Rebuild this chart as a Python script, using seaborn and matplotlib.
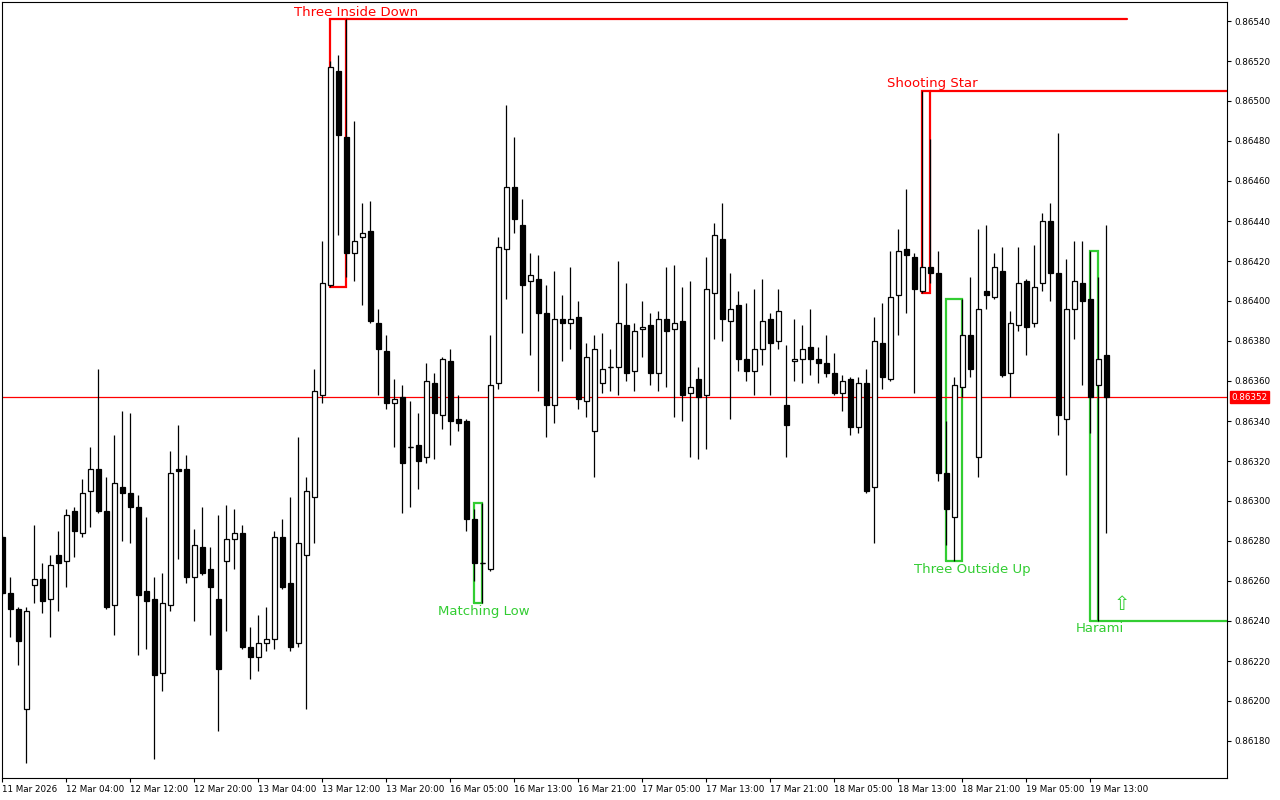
import numpy as np
import matplotlib
matplotlib.use("Agg")
import matplotlib.pyplot as plt
import matplotlib.transforms as mtransforms
import seaborn as sns

# H1 candles, 11 Mar 2026 20:00 onwards
opens = [0.86282, 0.86254, 0.86246, 0.86196, 0.86258, 0.86261, 0.86251, 0.86273, 0.86270, 0.86295,
         0.86284, 0.86305, 0.86316, 0.86295, 0.86248, 0.86307, 0.86304, 0.86297, 0.86255, 0.86251,
         0.86214, 0.86248, 0.86316, 0.86316, 0.86262, 0.86277, 0.86266, 0.86251, 0.86270, 0.86281,
         0.86284, 0.86227, 0.86222, 0.86229, 0.86231, 0.86282, 0.86259, 0.86229, 0.86273, 0.86302,
         0.86353, 0.86408, 0.86515, 0.86482, 0.86424, 0.86432, 0.86435, 0.86389, 0.86375, 0.86349,
         0.86352, 0.86327, 0.86328, 0.86322, 0.86359, 0.86343, 0.86370, 0.86341, 0.86340, 0.86291,
         0.86269, 0.86266, 0.86359, 0.86426, 0.86457, 0.86438, 0.86410, 0.86411, 0.86394, 0.86348,
         0.86391, 0.86389, 0.86392, 0.86350, 0.86335, 0.86359, 0.86367, 0.86367, 0.86388, 0.86365,
         0.86386, 0.86388, 0.86364, 0.86391, 0.86386, 0.86390, 0.86354, 0.86361, 0.86353, 0.86404,
         0.86431, 0.86390, 0.86398, 0.86371, 0.86365, 0.86376, 0.86391, 0.86380, 0.86348, 0.86370,
         0.86371, 0.86377, 0.86371, 0.86369, 0.86364, 0.86354, 0.86361, 0.86337, 0.86359, 0.86307,
         0.86379, 0.86361, 0.86403, 0.86426, 0.86422, 0.86405, 0.86417, 0.86414, 0.86314, 0.86292,
         0.86357, 0.86383, 0.86322, 0.86405, 0.86402, 0.86415, 0.86364, 0.86388, 0.86410, 0.86389,
         0.86409, 0.86440, 0.86414, 0.86341, 0.86396, 0.86409, 0.86401, 0.86358, 0.86373]
highs = [0.86283, 0.86262, 0.86247, 0.86247, 0.86288, 0.86269, 0.86273, 0.86285, 0.86296, 0.86297,
         0.86311, 0.86327, 0.86366, 0.86312, 0.86333, 0.86345, 0.86344, 0.86303, 0.86292, 0.86262,
         0.86264, 0.86325, 0.86338, 0.86323, 0.86286, 0.86297, 0.86277, 0.86293, 0.86298, 0.86296,
         0.86288, 0.86237, 0.86243, 0.86247, 0.86285, 0.86291, 0.86302, 0.86332, 0.86312, 0.86366,
         0.86430, 0.86520, 0.86523, 0.86541, 0.86490, 0.86449, 0.86450, 0.86396, 0.86383, 0.86361,
         0.86358, 0.86350, 0.86344, 0.86369, 0.86364, 0.86372, 0.86376, 0.86353, 0.86341, 0.86296,
         0.86299, 0.86383, 0.86432, 0.86498, 0.86482, 0.86451, 0.86424, 0.86423, 0.86408, 0.86415,
         0.86403, 0.86417, 0.86400, 0.86379, 0.86383, 0.86384, 0.86376, 0.86420, 0.86409, 0.86389,
         0.86400, 0.86394, 0.86395, 0.86417, 0.86418, 0.86407, 0.86410, 0.86367, 0.86422, 0.86439,
         0.86449, 0.86414, 0.86405, 0.86399, 0.86406, 0.86411, 0.86394, 0.86406, 0.86378, 0.86391,
         0.86388, 0.86396, 0.86377, 0.86383, 0.86374, 0.86363, 0.86362, 0.86362, 0.86366, 0.86392,
         0.86399, 0.86425, 0.86436, 0.86456, 0.86424, 0.86505, 0.86481, 0.86425, 0.86340, 0.86362,
         0.86401, 0.86412, 0.86436, 0.86438, 0.86424, 0.86427, 0.86395, 0.86427, 0.86411, 0.86428,
         0.86444, 0.86449, 0.86484, 0.86421, 0.86430, 0.86430, 0.86425, 0.86412, 0.86438]
lows = [0.86253, 0.86232, 0.86218, 0.86169, 0.86249, 0.86244, 0.86232, 0.86245, 0.86257, 0.86272,
        0.86282, 0.86287, 0.86294, 0.86246, 0.86233, 0.86280, 0.86279, 0.86223, 0.86226, 0.86171,
        0.86205, 0.86245, 0.86271, 0.86259, 0.86240, 0.86263, 0.86233, 0.86185, 0.86235, 0.86266,
        0.86226, 0.86211, 0.86215, 0.86225, 0.86226, 0.86256, 0.86225, 0.86227, 0.86196, 0.86279,
        0.86349, 0.86407, 0.86433, 0.86412, 0.86410, 0.86398, 0.86389, 0.86353, 0.86346, 0.86327,
        0.86294, 0.86297, 0.86306, 0.86319, 0.86321, 0.86336, 0.86328, 0.86335, 0.86285, 0.86260,
        0.86249, 0.86265, 0.86356, 0.86401, 0.86434, 0.86384, 0.86373, 0.86355, 0.86332, 0.86339,
        0.86370, 0.86376, 0.86346, 0.86342, 0.86312, 0.86354, 0.86355, 0.86353, 0.86360, 0.86355,
        0.86372, 0.86358, 0.86355, 0.86357, 0.86342, 0.86340, 0.86322, 0.86321, 0.86326, 0.86381,
        0.86380, 0.86341, 0.86365, 0.86360, 0.86353, 0.86368, 0.86353, 0.86376, 0.86322, 0.86360,
        0.86359, 0.86363, 0.86359, 0.86362, 0.86353, 0.86345, 0.86333, 0.86334, 0.86304, 0.86279,
        0.86356, 0.86360, 0.86383, 0.86394, 0.86354, 0.86404, 0.86409, 0.86310, 0.86278, 0.86270,
        0.86352, 0.86362, 0.86312, 0.86396, 0.86401, 0.86362, 0.86352, 0.86385, 0.86373, 0.86387,
        0.86405, 0.86400, 0.86333, 0.86313, 0.86381, 0.86358, 0.86334, 0.86240, 0.86284]
closes = [0.86254, 0.86246, 0.86230, 0.86245, 0.86261, 0.86250, 0.86268, 0.86269, 0.86293, 0.86285,
          0.86304, 0.86316, 0.86295, 0.86247, 0.86309, 0.86304, 0.86297, 0.86253, 0.86250, 0.86213,
          0.86249, 0.86314, 0.86315, 0.86262, 0.86278, 0.86264, 0.86257, 0.86216, 0.86281, 0.86284,
          0.86227, 0.86222, 0.86229, 0.86231, 0.86282, 0.86257, 0.86227, 0.86279, 0.86305, 0.86355,
          0.86409, 0.86517, 0.86483, 0.86424, 0.86430, 0.86434, 0.86390, 0.86376, 0.86349, 0.86351,
          0.86319, 0.86327, 0.86320, 0.86360, 0.86344, 0.86371, 0.86340, 0.86339, 0.86291, 0.86269,
          0.86269, 0.86358, 0.86427, 0.86457, 0.86441, 0.86408, 0.86413, 0.86394, 0.86348, 0.86391,
          0.86389, 0.86391, 0.86351, 0.86372, 0.86376, 0.86366, 0.86367, 0.86389, 0.86364, 0.86385,
          0.86387, 0.86364, 0.86391, 0.86385, 0.86389, 0.86353, 0.86357, 0.86352, 0.86406, 0.86433,
          0.86391, 0.86396, 0.86371, 0.86365, 0.86376, 0.86390, 0.86379, 0.86395, 0.86338, 0.86371,
          0.86376, 0.86371, 0.86369, 0.86364, 0.86354, 0.86360, 0.86337, 0.86359, 0.86305, 0.86380,
          0.86362, 0.86402, 0.86425, 0.86423, 0.86406, 0.86417, 0.86414, 0.86314, 0.86296, 0.86358,
          0.86383, 0.86366, 0.86396, 0.86403, 0.86417, 0.86363, 0.86389, 0.86409, 0.86387, 0.86407,
          0.86440, 0.86414, 0.86343, 0.86396, 0.86410, 0.86400, 0.86352, 0.86371, 0.86352]

time_labels = ["11 Mar 2026", "12 Mar 04:00", "12 Mar 12:00", "12 Mar 20:00", "13 Mar 04:00",
               "13 Mar 12:00", "13 Mar 20:00", "16 Mar 05:00", "16 Mar 13:00", "16 Mar 21:00",
               "17 Mar 05:00", "17 Mar 13:00", "17 Mar 21:00", "18 Mar 05:00", "18 Mar 13:00",
               "18 Mar 21:00", "19 Mar 05:00", "19 Mar 13:00"]
label_step = 8

price_ticks = [0.86180, 0.86200, 0.86220, 0.86240, 0.86260, 0.86280, 0.86300, 0.86320, 0.86340,
               0.86360, 0.86380, 0.86400, 0.86420, 0.86440, 0.86460, 0.86480, 0.86500, 0.86520, 0.86540]

pattern_names = ["Three Inside Down", "Shooting Star", "Matching Low", "Three Outside Up", "Harami"]
pattern_first = [41, 115, 59, 118, 136]
pattern_last = [43, 116, 60, 120, 137]
pattern_bullish = [False, False, True, True, True]

# layout
label_x = [44.2, 116.2, 60.2, 121.2, 137.2]
XMIN, XMAX = -0.04, 153.1
YMIN, YMAX = 0.861615, 0.865495
RED = "#ff0000"
GREEN = "#32cd32"

sns.set_theme(style="white")
plt.rcParams["font.family"] = ["DejaVu Sans"]

fig = plt.figure(figsize=(12.8, 8), dpi=100)
ax = fig.add_axes([2 / 1280, 22 / 800, 1225 / 1280, 776 / 800])

o = np.array(opens)
h = np.array(highs)
l = np.array(lows)
c = np.array(closes)
x = np.arange(len(o))
up = c >= o

# current price line (behind candles)
ax.axhline(c[-1], color=RED, lw=0.9, zorder=1.5)

ax.vlines(x, l, h, color="black", lw=0.9, zorder=2)
ax.bar(x, np.abs(c - o), bottom=np.minimum(o, c), width=0.62,
       color=np.where(up, "white", "black"), edgecolor="black", linewidth=0.9, zorder=3)
doji = np.isclose(o, c)
ax.hlines(o[doji], x[doji] - 0.31, x[doji] + 0.31, color="black", lw=0.9, zorder=3)

# candlestick pattern markers
for name, i0, i1, bull, lx in zip(pattern_names, pattern_first, pattern_last, pattern_bullish, label_x):
    top = h[i0:i1 + 1].max()
    bot = l[i0:i1 + 1].min()
    col = GREEN if bull else RED
    ax.plot([i0, i0, i1, i1, i0], [bot, top, top, bot, bot], color=col, lw=1.6,
            zorder=1, solid_joinstyle="miter")
    if bull:
        ax.text(lx, bot - 0.00004, name, color=col, fontsize=9.5, ha="center", va="center")
    else:
        ax.text(lx, top + 0.000035, name, color=col, fontsize=9.5, ha="center", va="center")

# extended level lines
tid = pattern_names.index("Three Inside Down")
ax.plot([pattern_last[tid], 140.6], [h[41:44].max()] * 2, color=RED, lw=1.6, zorder=1)
ss = pattern_names.index("Shooting Star")
ax.plot([pattern_last[ss], XMAX], [h[115:117].max()] * 2, color=RED, lw=1.6, zorder=1)
hr = pattern_names.index("Harami")
ax.plot([pattern_last[hr], XMAX], [l[136:138].min()] * 2, color=GREEN, lw=1.6, zorder=1)
ax.text(140, l[136:138].min() + 0.00008, "\u21e7", color=GREEN, fontsize=14,
        ha="center", va="center")

ax.set_xlim(XMIN, XMAX)
ax.set_ylim(YMIN, YMAX)

ax.set_xticks(np.arange(len(time_labels)) * label_step)
ax.set_xticklabels(time_labels)
for t in ax.get_xticklabels():
    t.set_ha("left")
ax.set_yticks(price_ticks)
ax.set_yticklabels([f"{p:.5f}" for p in price_ticks])
ax.yaxis.tick_right()
ax.tick_params(axis="both", which="both", direction="out", length=3, width=0.8,
               colors="black", labelsize=6.3, pad=2)
ax.tick_params(axis="y", left=False, right=True)
ax.tick_params(axis="x", bottom=True)

for s in ax.spines.values():
    s.set_color("black")
    s.set_linewidth(0.8)
ax.grid(False)

# bid price tag on the axis
trans = mtransforms.blended_transform_factory(ax.transAxes, ax.transData)
ax.text(1.0035, c[-1], f"{c[-1]:.5f}", transform=trans, color="white", fontsize=6.3,
        ha="left", va="center", clip_on=False,
        bbox=dict(boxstyle="square,pad=0.18", facecolor=RED, edgecolor=RED))

fig.savefig("out.png", dpi=100)
